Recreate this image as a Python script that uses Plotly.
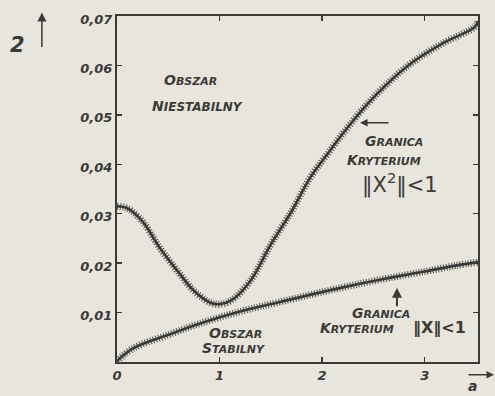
import plotly.graph_objects as go

# Data
a_upper = [0.0, 0.1, 0.25, 0.42, 0.59, 0.75, 0.91, 1.0, 1.11, 1.3, 1.5, 1.7, 1.89, 2.05, 2.25, 2.5, 2.84, 3.17, 3.49, 3.52]
y_upper = [0.0315, 0.0311, 0.0284, 0.0230, 0.0184, 0.0144, 0.0120, 0.0117, 0.0124, 0.0164, 0.0238, 0.0304, 0.0375, 0.0420, 0.0475, 0.0535, 0.0600, 0.0644, 0.0678, 0.0690]

a_lower = [0.0, 0.16, 0.5, 0.81, 1.2, 1.6, 2.18, 2.6, 3.0, 3.3, 3.52]
y_lower = [0.0002, 0.0028, 0.0055, 0.0078, 0.0102, 0.0122, 0.0150, 0.0168, 0.0183, 0.0195, 0.0202]

y_tickvals = [0.01, 0.02, 0.03, 0.04, 0.05, 0.06, 0.07]
y_ticktext = ["0,01", "0,02", "0,03", "0,04", "0,05", "0,06", "0,07"]
x_tickvals = [0, 1, 2, 3]
x_ticktext = ["0", "1", "2", "3"]

INK = "#3a3a38"
PAPER = "#e8e6dc"
FONT = "DejaVu Sans"

fig = go.Figure()
for xs, ys in [(a_upper, y_upper), (a_lower, y_lower)]:
    fig.add_trace(go.Scatter(x=xs, y=ys, mode="lines", line=dict(color=INK, width=2.6, shape="spline"),
                             hoverinfo="skip", showlegend=False))
    fig.add_trace(go.Scatter(x=xs, y=ys, mode="lines",
                             line=dict(color=INK, width=7, shape="spline", dash="1.2px,1.6px"),
                             opacity=0.75, hoverinfo="skip", showlegend=False))


def sc(word, big, small):
    """hand-lettered small caps: first letter big, rest smaller capitals"""
    return f'<span style="font-size:{big}px">{word[0]}</span><span style="font-size:{small}px">{word[1:]}</span>'


lab = dict(family=FONT, size=12, color=INK, weight="bold", style="italic")


def t(x, y, text, size=12, xanchor="left", **kw):
    f = dict(lab)
    f["size"] = size
    f.update(kw)
    fig.add_annotation(x=x, y=y, xref="x", yref="y", text=text, showarrow=False,
                       xanchor=xanchor, yanchor="middle", font=f)

# upper-left region
t(0.44, 0.0570, sc("OBSZAR", 14, 11))
t(0.32, 0.0518, sc("NIESTABILNY", 14, 12))
# upper boundary label
t(2.40, 0.0448, sc("GRANICA", 14, 11))
t(2.22, 0.0408, sc("KRYTERIUM", 14, 11))
t(2.37, 0.0362, "‖X<sup>2</sup>‖<1", 21, style="normal", weight="normal")
# lower labels
t(0.88, 0.0058, sc("OBSZAR", 14, 11))
t(0.81, 0.0028, sc("STABILNY", 14, 11))
t(2.27, 0.0100, sc("GRANICA", 14, 11))
t(1.96, 0.0068, sc("KRYTERIUM", 14, 11))
t(2.87, 0.0068, "‖X‖<1", 16, style="normal", weight="bold")

# arrows
fig.add_annotation(x=2.37, y=0.0484, xref="x", yref="y", ax=30, ay=0, text="", showarrow=True,
                   arrowhead=2, arrowsize=1, arrowwidth=1.5, arrowcolor=INK)
fig.add_annotation(x=2.73, y=0.0150, xref="x", yref="y", ax=0, ay=20, text="", showarrow=True,
                   arrowhead=2, arrowsize=1, arrowwidth=2, arrowcolor=INK)
# axis titles
fig.add_annotation(x=-0.275, y=0.915, xref="paper", yref="paper", text="2", showarrow=False,
                   xanchor="center", yanchor="middle",
                   font=dict(family=FONT, size=21, color=INK, style="italic", weight="bold"))
fig.add_annotation(x=-0.208, y=1.01, xref="paper", yref="paper", ax=0, ay=36, text="", showarrow=True,
                   arrowhead=2, arrowsize=1.2, arrowwidth=1.5, arrowcolor=INK)
fig.add_annotation(x=1.047, y=-0.037, xref="paper", yref="paper", ax=-28, ay=0, text="", showarrow=True,
                   arrowhead=2, arrowsize=1, arrowwidth=1.5, arrowcolor=INK)
fig.add_annotation(x=0.986, y=-0.068, xref="paper", yref="paper", text="a", showarrow=False,
                   xanchor="center", yanchor="middle",
                   font=dict(family=FONT, size=14, color=INK, weight="bold", style="italic"))

axfont = dict(family=FONT, size=13, color=INK, weight="bold", style="italic")
fig.update_xaxes(range=[0, 3.52], tickvals=x_tickvals, ticktext=x_ticktext, ticks="inside", ticklen=5,
                 tickcolor=INK, tickwidth=1.5, showline=True, linecolor=INK, linewidth=2, mirror="ticks",
                 showgrid=False, zeroline=False, tickfont=axfont)
fig.update_yaxes(range=[0, 0.07], tickvals=y_tickvals, ticktext=y_ticktext, ticks="inside", ticklen=5,
                 tickcolor=INK, tickwidth=1.5, showline=True, linecolor=INK, linewidth=2, mirror="ticks",
                 showgrid=False, zeroline=False, tickfont=axfont, ticklabelshift=3)
fig.update_layout(width=495, height=396, margin=dict(l=117, r=17, t=13, b=34),
                  paper_bgcolor=PAPER, plot_bgcolor=PAPER, showlegend=False)
fig.write_html("out.html", config={"displayModeBar": False, "staticPlot": True},
               post_script="document.body.style.margin='0px';document.body.style.background='%s';" % PAPER)
